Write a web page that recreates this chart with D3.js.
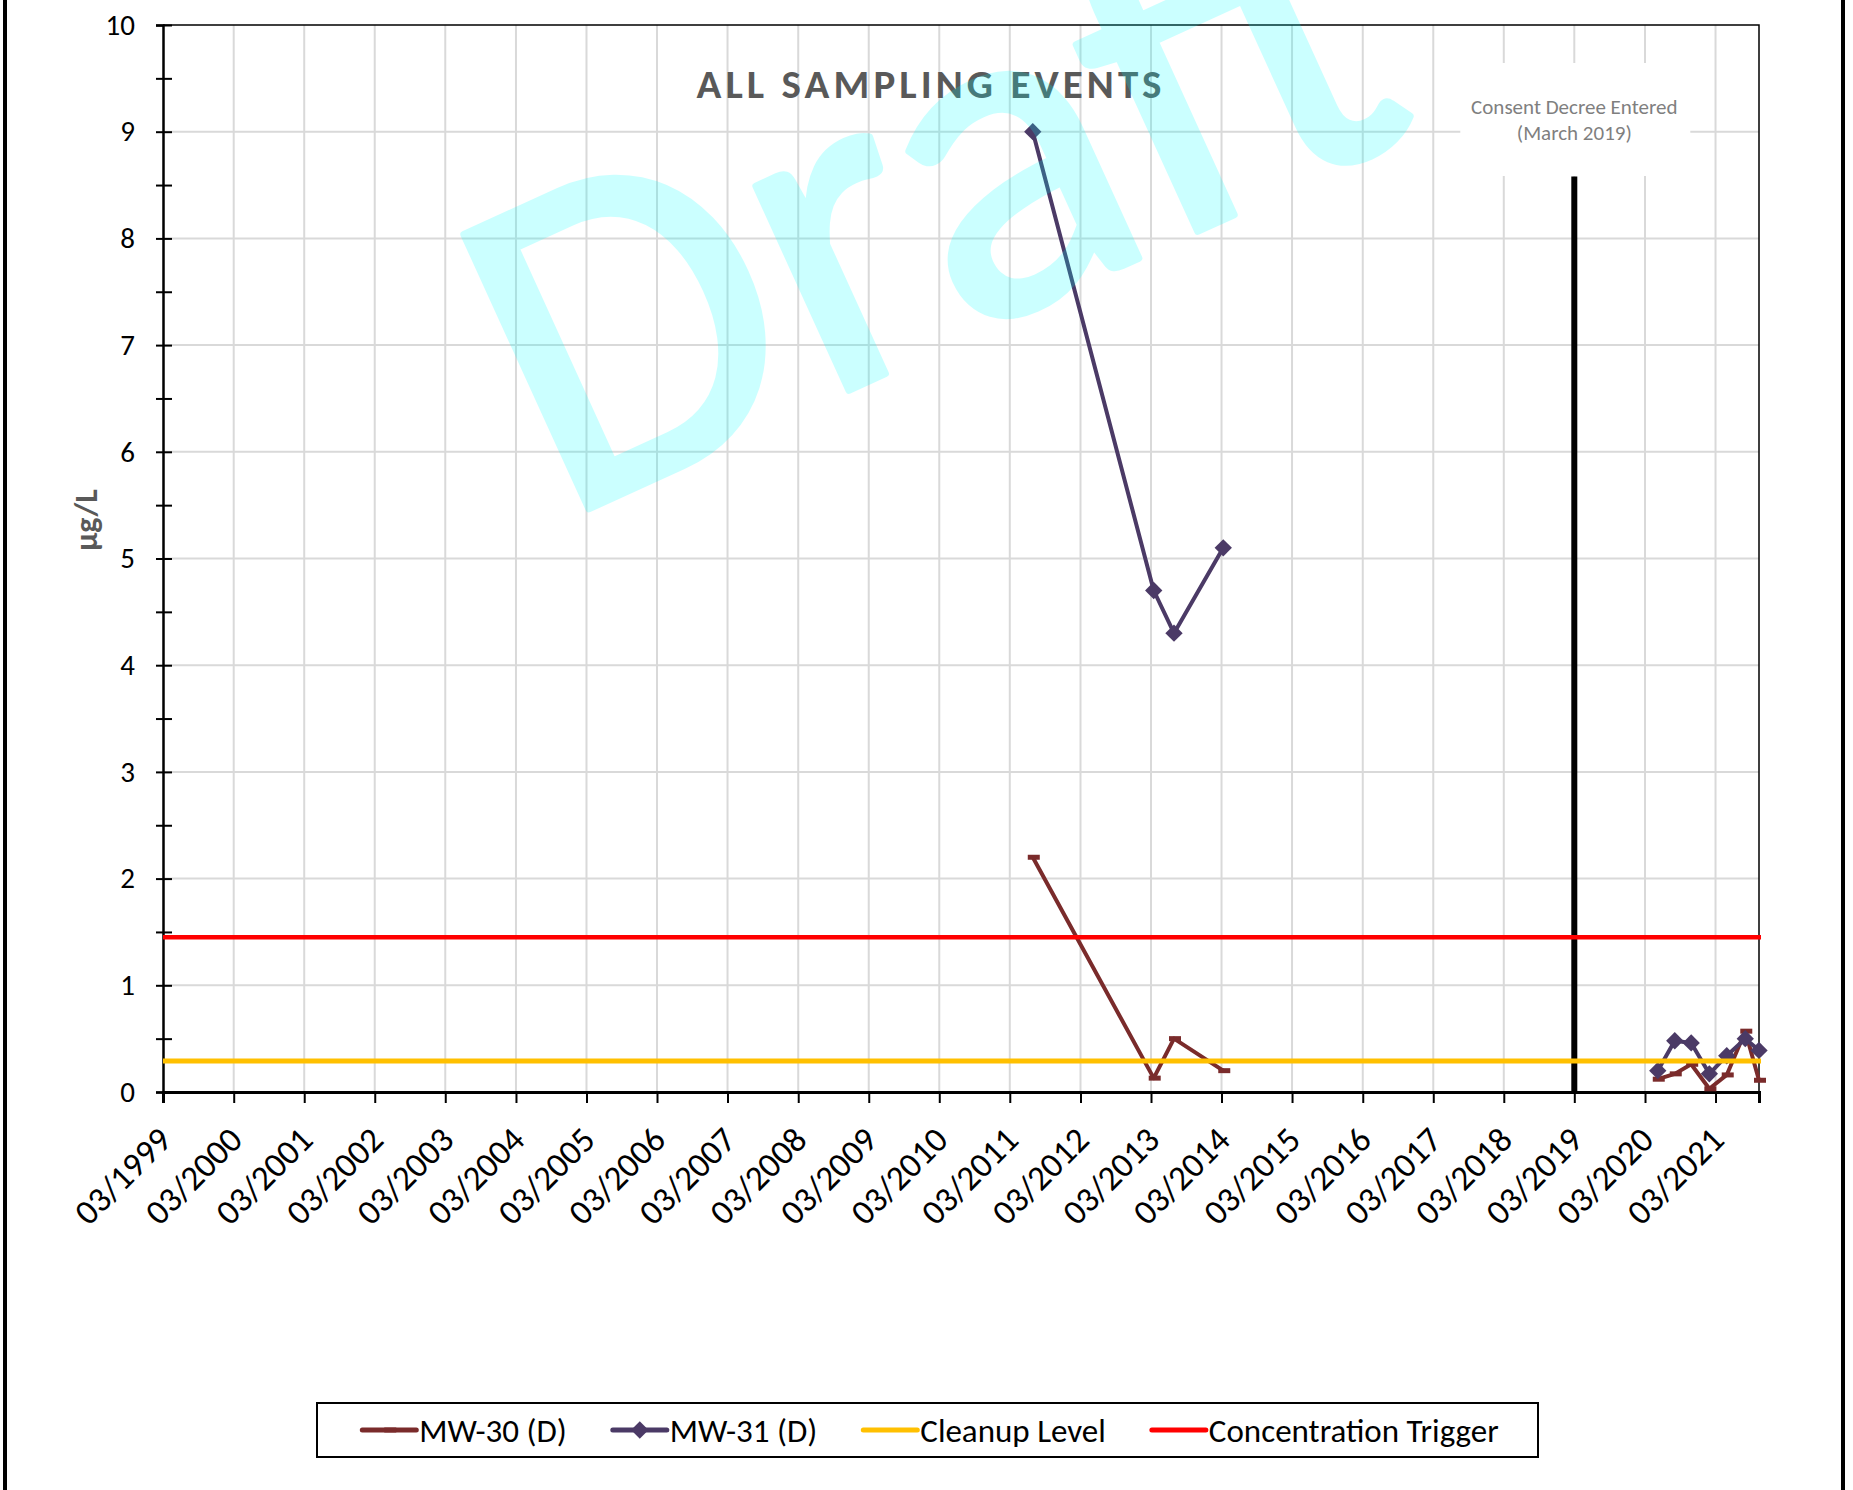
<!DOCTYPE html>
<html>
<head>
<meta charset="utf-8">
<script src="https://cdn.jsdelivr.net/npm/d3@7"></script>
<style>
  html, body { margin: 0; padding: 0; background: #fff; }
  svg { display: block; font-family: Calibri, Carlito, Lato, sans-serif; }
</style>
</head>
<body>
<svg id="chart" width="1853" height="1490"></svg>
<script>
// sampling events (both wells sampled on the same dates)
var sampleDates = ['2011-06-28', '2013-03-15', '2013-06-28', '2014-03-10',
                   '2020-05-06', '2020-08-02', '2020-10-26', '2021-01-28',
                   '2021-04-28', '2021-08-02', '2021-10-12'];
var mw30 = [2.2, 0.13, 0.5, 0.2, 0.12, 0.17, 0.26, 0.03, 0.16, 0.57, 0.11];
var mw31 = [9.0, 4.7, 4.3, 5.1, 0.2, 0.48, 0.46, 0.17, 0.34, 0.5, 0.39];
var cleanupLevel = 0.29;
var concentrationTrigger = 1.45;
var seriesNames = ['MW-30 (D)', 'MW-31 (D)', 'Cleanup Level', 'Concentration Trigger'];
var seriesColors = ['#7a2b2b', '#4b3a66', '#ffc000', '#ff0000'];
var xDomain = ['1999-03-01', '2021-10-12'];
var tickYears = d3.range(1999, 2022);
var yTicks = d3.range(0, 11);
var consentDate = '2019-03-01';
var consentTop = 8.58;
var consentLabel = ['Consent Decree Entered', '(March 2019)'];
var chartTitle = 'ALL SAMPLING EVENTS';
var yTitle = 'µg/L';

var W = 1853, H = 1490;
var parse = d3.timeParse('%Y-%m-%d');
var svg = d3.select('#chart');

var x = d3.scaleTime().domain(xDomain.map(parse)).range([163, 1759]);
var y = d3.scaleLinear().domain([0, 10]).range([1092, 25]);
var tickDates = tickYears.map(function(yr) { return new Date(yr, 2, 1); });

svg.append('rect').attr('width', W).attr('height', H).attr('fill', '#fff');

// page frame
svg.selectAll('line.frame')
   .data([5, 1843])
   .enter()
   .append('line')
   .attr('x1', function(d) { return d; })
   .attr('x2', function(d) { return d; })
   .attr('y1', 0)
   .attr('y2', H)
   .attr('stroke', '#000')
   .attr('stroke-width', 4);

// gridlines
var grid = svg.append('g').attr('stroke', '#d9d9d9').attr('stroke-width', 2);
grid.selectAll('line.v')
    .data(tickDates.slice(1))
    .enter()
    .append('line')
    .attr('x1', function(d) { return x(d); })
    .attr('x2', function(d) { return x(d); })
    .attr('y1', y(10))
    .attr('y2', y(0));
grid.selectAll('line.h')
    .data(yTicks.slice(1, -1))
    .enter()
    .append('line')
    .attr('x1', x.range()[0])
    .attr('x2', x.range()[1])
    .attr('y1', function(d) { return y(d); })
    .attr('y2', function(d) { return y(d); });

// title
svg.append('text')
   .attr('x', 929)
   .attr('y', 98)
   .attr('text-anchor', 'middle')
   .attr('font-size', 41)
   .attr('font-weight', 'bold')
   .attr('fill', '#595959')
   .attr('textLength', 465)
   .attr('lengthAdjust', 'spacing')
   .text(chartTitle);

// consent decree marker
var cdX = x(parse(consentDate));
svg.append('rect')
   .attr('x', cdX - 114)
   .attr('y', 63)
   .attr('width', 230)
   .attr('height', 113)
   .attr('fill', '#fff');
svg.append('line')
   .attr('x1', cdX).attr('x2', cdX)
   .attr('y1', y(0)).attr('y2', y(consentTop))
   .attr('stroke', '#000')
   .attr('stroke-width', 6);
svg.selectAll('text.cd')
   .data(consentLabel)
   .enter()
   .append('text')
   .attr('x', cdX)
   .attr('y', function(d, i) { return 114 + i * 26; })
   .attr('text-anchor', 'middle')
   .attr('font-size', 21)
   .attr('fill', '#7f7f7f')
   .text(function(d) { return d; });

// plot border (top/right)
svg.append('path')
   .attr('d', 'M' + x.range()[0] + ',' + y(10) + 'H' + x.range()[1] + 'V' + y(0))
   .attr('fill', 'none')
   .attr('stroke', '#000')
   .attr('stroke-width', 1.5);

// y axis
var yAxis = svg.append('g')
   .attr('transform', 'translate(' + x.range()[0] + ',0)')
   .call(d3.axisLeft(y)
      .tickValues(d3.range(0, 10.5, 0.5))
      .tickSize(7)
      .tickPadding(21)
      .tickFormat(function(d) { return Number.isInteger(d) ? d : ''; }));
yAxis.attr('font-family', null).attr('font-size', null);
yAxis.select('.domain').attr('stroke-width', 2.5);
yAxis.selectAll('.tick line').attr('x1', 9).attr('stroke-width', 2);
yAxis.selectAll('.tick text')
     .attr('font-size', 29)
     .attr('fill', '#000');

// x axis
var xAxis = svg.append('g')
   .attr('transform', 'translate(0,' + y(0) + ')')
   .call(d3.axisBottom(x)
      .tickValues(tickDates)
      .tickSize(11)
      .tickFormat(d3.timeFormat('%m/%Y')));
xAxis.attr('font-family', null).attr('font-size', null);
xAxis.select('.domain').attr('stroke-width', 3);
xAxis.selectAll('.tick line').attr('stroke-width', 2);
xAxis.selectAll('.tick text')
     .attr('font-size', 35)
     .attr('fill', '#000')
     .attr('text-anchor', 'end')
     .attr('x', 0).attr('y', 0).attr('dy', 0)
     .attr('transform', 'translate(10,50) rotate(-45)');

// y title
svg.append('text')
   .attr('transform', 'translate(86,520) rotate(-90)')
   .attr('text-anchor', 'middle')
   .attr('dominant-baseline', 'central')
   .attr('font-size', 32)
   .attr('font-weight', 'bold')
   .attr('fill', '#595959')
   .text(yTitle);

// series
var series = [
   { name: seriesNames[0], values: mw30, color: seriesColors[0], marker: 'dash' },
   { name: seriesNames[1], values: mw31, color: seriesColors[1], marker: 'diamond' }
];
var line = d3.line()
   .x(function(d) { return x(d.date); })
   .y(function(d) { return y(d.v); });
var diamond = d3.symbol().type(d3.symbolSquare).size(150);

function drawMarker(g, type, color) {
   if (type === 'dash') {
      g.append('rect')
       .attr('x', -5).attr('y', -2.5)
       .attr('width', 12).attr('height', 5)
       .attr('fill', color);
   } else {
      g.append('path')
       .attr('d', diamond())
       .attr('transform', 'rotate(45)')
       .attr('fill', color);
   }
}

series.forEach(function(s) {
   var pts = sampleDates.map(function(d, i) { return { date: parse(d), v: s.values[i] }; });
   // break the line where sampling stopped for years
   var segs = [[pts[0]]];
   for (var i = 1; i < pts.length; i++) {
      if (pts[i].date - pts[i - 1].date > 2 * 365 * 864e5) segs.push([]);
      segs[segs.length - 1].push(pts[i]);
   }
   var g = svg.append('g');
   g.selectAll('path')
    .data(segs)
    .enter()
    .append('path')
    .attr('d', line)
    .attr('fill', 'none')
    .attr('stroke', s.color)
    .attr('stroke-width', 4)
    .attr('stroke-linejoin', 'round');
   g.selectAll('g.m')
    .data(pts)
    .enter()
    .append('g')
    .attr('transform', function(d) { return 'translate(' + x(d.date) + ',' + y(d.v) + ')'; })
    .each(function() { drawMarker(d3.select(this), s.marker, s.color); });
});

// cleanup level and trigger
var limits = [
   { v: cleanupLevel, color: seriesColors[2], w: 5 },
   { v: concentrationTrigger, color: seriesColors[3], w: 4.5 }
];
svg.selectAll('line.limit')
   .data(limits)
   .enter()
   .append('line')
   .attr('x1', x.range()[0])
   .attr('x2', x.range()[1] + 2)
   .attr('y1', function(d) { return y(d.v); })
   .attr('y2', function(d) { return y(d.v); })
   .attr('stroke', function(d) { return d.color; })
   .attr('stroke-width', function(d) { return d.w; });

// legend
var legBox = { x: 317, y: 1403, w: 1221, h: 54 };
var legend = svg.append('g');
legend.append('rect')
   .attr('x', legBox.x).attr('y', legBox.y)
   .attr('width', legBox.w).attr('height', legBox.h)
   .attr('fill', '#fff')
   .attr('stroke', '#000')
   .attr('stroke-width', 2);
var legY = legBox.y + legBox.h / 2;
var items = legend.selectAll('g.item')
   .data(seriesNames)
   .enter()
   .append('g');
items.append('text')
   .attr('font-size', 33)
   .attr('dominant-baseline', 'central')
   .attr('y', legY + 1)
   .text(function(d) { return d; });
var widths = [];
items.select('text').each(function() { widths.push(this.getComputedTextLength()); });
var sampleW = 54, gapText = 3, gapItem = 46;
var total = d3.sum(widths) + seriesNames.length * (sampleW + gapText) + (seriesNames.length - 1) * gapItem;
var xPos = legBox.x + legBox.w / 2 - total / 2 + 3;
items.each(function(d, i) {
   var g = d3.select(this);
   var x0 = xPos;
   g.insert('line', 'text')
    .attr('x1', x0).attr('x2', x0 + sampleW)
    .attr('y1', legY).attr('y2', legY)
    .attr('stroke', seriesColors[i])
    .attr('stroke-width', 5)
    .attr('stroke-linecap', 'round');
   if (i < 2) {
      var m = g.insert('g', 'text').attr('transform', 'translate(' + (x0 + sampleW / 2) + ',' + legY + ')');
      drawMarker(m, series[i].marker, seriesColors[i]);
   }
   g.select('text').attr('x', x0 + sampleW + gapText);
   xPos += sampleW + gapText + widths[i] + gapItem;
});

// watermark
svg.append('g')
   .attr('opacity', 0.2)
   .append('text')
   .attr('transform', 'translate(560,522) rotate(-24.5)')
   .attr('font-size', 470)
   .attr('textLength', 950)
   .attr('lengthAdjust', 'spacingAndGlyphs')
   .attr('fill', '#00ffff')
   .attr('stroke', '#00ffff')
   .attr('stroke-width', 7)
   .attr('stroke-linejoin', 'round')
   .text('Draft');
</script>
</body>
</html>
